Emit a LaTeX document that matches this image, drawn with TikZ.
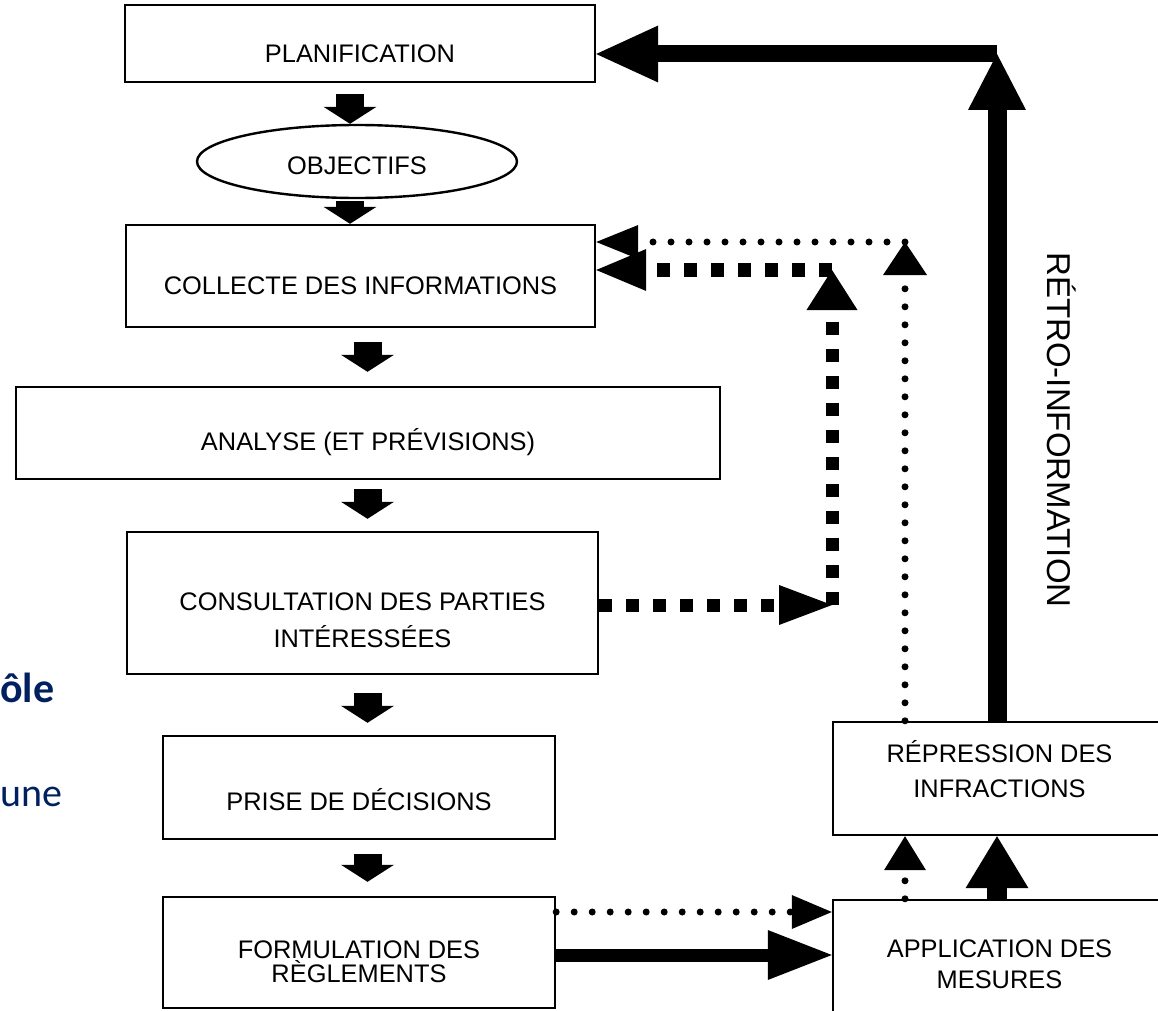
\documentclass[tikz,border=0pt]{standalone}
\usepackage{fontspec}
\setmainfont{Liberation Sans}
\newfontfamily\slidefont{Carlito}
\usetikzlibrary{arrows.meta,shapes.geometric}
\definecolor{navy}{RGB}{0,32,96}
\newcommand\lblfont{\fontsize{12.7pt}{15pt}\selectfont}
\begin{document}
\begin{tikzpicture}[x=0.5pt,y=-0.5pt,
  box/.style={draw,line width=1.2pt,inner sep=0pt,font=\lblfont,text depth=0pt},
  blk/.style={line width=14pt,-{Triangle[length=8.5pt,width=26.5pt,line width=0pt]}},
  dotline/.style={line width=3.5pt,line cap=round,dash pattern=on 0pt off 9pt},
  dashline/.style={line width=6.5pt,dash pattern=on 6.5pt off 7pt},
  slidetxt/.style={text=navy,anchor=base west,inner sep=0pt}]
\useasboundingbox (0,0) rectangle (1158,1011);
\clip (0,0) rectangle (1158,1011);

% boxes
\node[box,minimum width=235pt,minimum height=38.5pt,text height=19.5pt] (plan) at (360,43.5) {PLANIFICATION};
\node[box,ellipse,minimum width=160pt,minimum height=36.5pt,text height=13.5pt] (obj) at (357,161.5) {OBJECTIFS};
\node[box,minimum width=234.5pt,minimum height=51pt,text height=18pt] (coll) at (360.5,276) {COLLECTE DES INFORMATIONS};
\node[box,minimum width=352pt,minimum height=46pt,text height=17pt] (ana) at (368,433) {ANALYSE (ET PRÉVISIONS)};
\node[box,minimum width=235.5pt,minimum height=71pt,text height=7pt] (cons) at (362.5,603) {\parbox[t]{220pt}{\centering\fontsize{12.7pt}{18.5pt}\selectfont CONSULTATION DES PARTIES\\INTÉRESSÉES}};
\node[box,minimum width=196pt,minimum height=51.5pt,text height=22.5pt] (prise) at (359,787.5) {PRISE DE DÉCISIONS};
\node[box,minimum width=196pt,minimum height=55.5pt,text height=5.5pt] (form) at (359,952.5) {\parbox[t]{190pt}{\centering\fontsize{12.7pt}{12.2pt}\selectfont FORMULATION DES\\RÈGLEMENTS}};
\node[box,minimum width=166.5pt,minimum height=56.5pt,text height=0pt,text depth=16.5pt] (rep) at (999.5,778.5) {\parbox[t]{160pt}{\centering\fontsize{12.7pt}{17.5pt}\selectfont RÉPRESSION DES\\INFRACTIONS}};
\node[box,minimum width=166.5pt,minimum height=65pt,text height=0pt,text depth=8pt] (app) at (999.5,965) {\parbox[t]{160pt}{\centering\fontsize{12.7pt}{15.5pt}\selectfont APPLICATION DES\\MESURES}};

% block arrows down
\coordinate (xa) at (350,0);
\coordinate (xb) at (367.5,0);
\draw[blk,shorten <=5.5pt] (xa |- plan.south) -- (xa |- obj.north);
\draw[blk,shorten <=1pt] (xa |- obj.south) -- (xa |- coll.north);
\draw[blk,shorten <=7pt,shorten >=7pt] (xb |- coll.south) -- (xb |- ana.north);
\draw[blk,shorten <=4.5pt,shorten >=6pt] (xb |- ana.south) -- (xb |- cons.north);
\draw[blk,shorten <=9pt,shorten >=6pt] (xb |- cons.south) -- (xb |- prise.north);
\draw[blk,shorten <=7pt,shorten >=7pt] (xb |- prise.south) -- (xb |- form.north);

% thick solid feedback
\coordinate (k1) at (997,54);
\draw[line width=9.5pt,-{Triangle[length=28pt,width=29pt,line width=0pt]}] (k1 |- rep.north) -- (k1);
\draw[line width=8.5pt,-{Triangle[length=31pt,width=28.5pt,line width=0pt]}] (k1) -- (plan.east |- k1);
\draw[line width=10pt,-{Triangle[length=26pt,width=31.5pt,line width=0pt]}] (k1 |- app.north) -- (k1 |- rep.south);
\coordinate (k2) at (0,955);
\draw[line width=6.5pt,-{Triangle[length=32pt,width=25pt,line width=0pt]}] (form.east |- k2) -- (app.west |- k2);

% dotted
\coordinate (d1) at (905,242);
\draw[dotline,-{Triangle[length=16.5pt,width=22pt,line width=0pt]}] (d1 |- rep.north) -- (d1);
\draw[dotline,-{Triangle[length=21pt,width=17pt,line width=0pt]}] (d1) -- (coll.east |- d1);
\coordinate (d2) at (0,912);
\draw[dotline,-{Triangle[length=20pt,width=17pt,line width=0pt]}] (form.east |- d2) -- (app.west |- d2);
\draw[dotline,-{Triangle[length=17pt,width=21pt,line width=0pt]}] (d1 |- app.north) -- (d1 |- rep.south);

% dashed
\coordinate (e1) at (832,605);
\coordinate (e2) at (832,270);
\draw[dashline,-{Triangle[length=26.5pt,width=20pt,line width=0pt]}] (cons.east |- e1) -- (e1);
\draw[dashline,-{Triangle[length=20pt,width=25.5pt,line width=0pt]}] (e1) -- (e2);
\draw[dashline,-{Triangle[length=25pt,width=21pt,line width=0pt]}] (e2) -- (coll.east |- e2);

% rotated label
\node[font=\fontsize{16.5pt}{20pt}\selectfont,rotate=-90,inner sep=0pt] (retro) at (1062,430) {RÉTRO-INFORMATION};

% slide text fragments
\node[slidetxt,font=\slidefont\bfseries\fontsize{21pt}{25pt}\selectfont] (t1) at (0,702) {ôle};
\node[slidetxt,font=\slidefont\fontsize{20pt}{24pt}\selectfont] (t2) at (0,806) {une};
\end{tikzpicture}
\end{document}
